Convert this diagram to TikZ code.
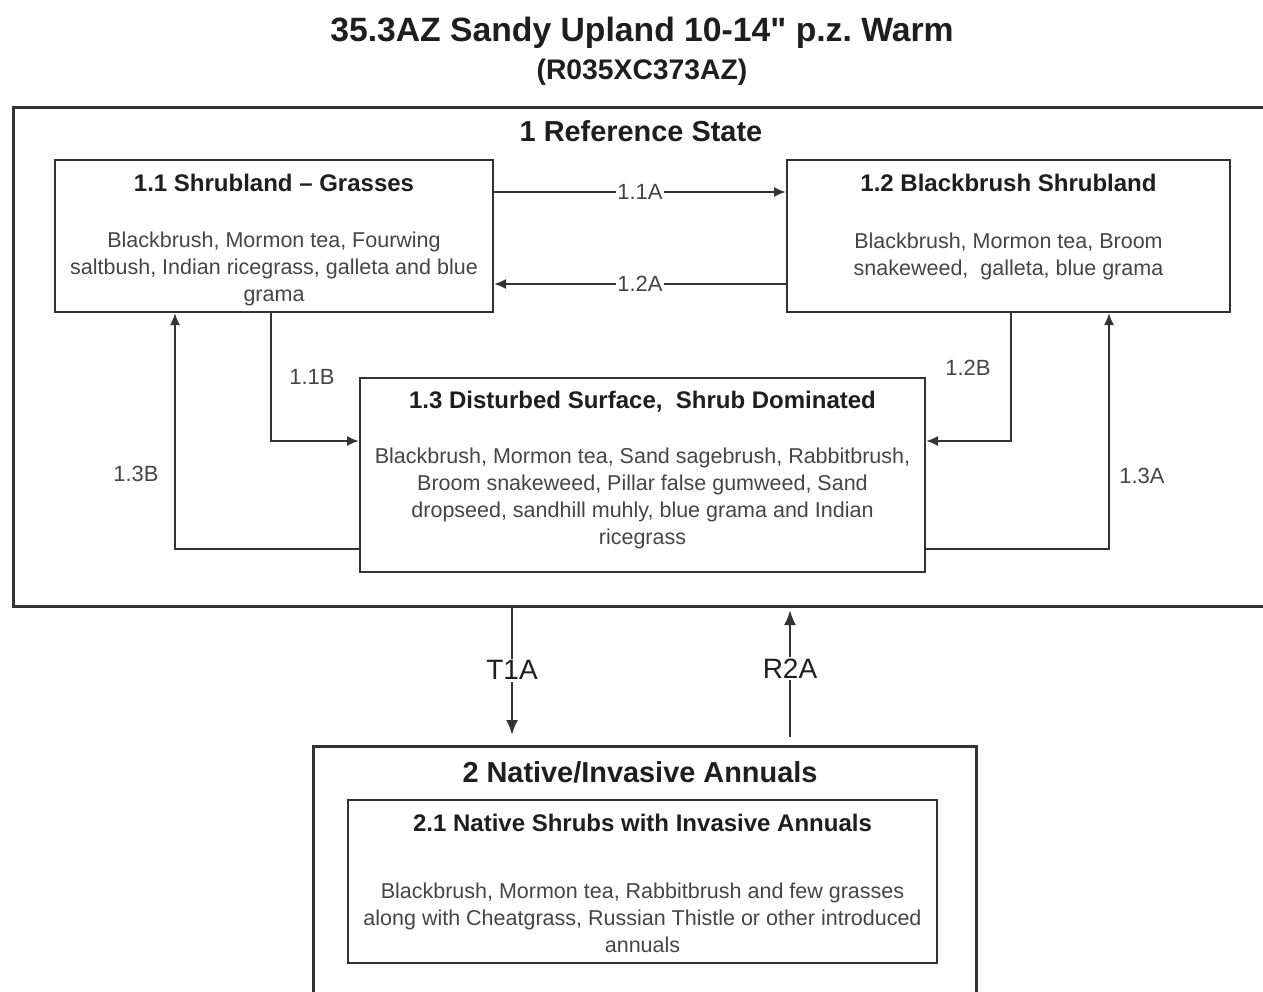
\documentclass[tikz,border=0pt]{standalone}
\usepackage{fontspec}
\setmainfont{Liberation Sans}[Ligatures=TeXOff]
\usetikzlibrary{arrows.meta,calc}
\definecolor{ln}{HTML}{333333}
\definecolor{bodytxt}{HTML}{454545}
\definecolor{ttltxt}{HTML}{1E1E1E}
\frenchspacing
\begin{document}
\begin{tikzpicture}[x=1pt,y=-1pt,
  box/.style={draw=ln, line width=2pt, rectangle, inner sep=0pt},
  statebox/.style={draw=ln, line width=3pt, rectangle, inner sep=0pt},
  ttl/.style={inner sep=0pt, text=ttltxt, font=\fontsize{24}{28}\selectfont\bfseries},
  body/.style={inner sep=0pt, text=bodytxt, align=center, font=\fontsize{21.5}{27}\selectfont},
  statettl/.style={inner sep=0pt, text=ttltxt, font=\fontsize{28.9}{34}\selectfont\bfseries},
  lbl/.style={inner sep=1pt, text=bodytxt, font=\fontsize{22}{26}\selectfont},
  biglbl/.style={inner sep=2pt, text=ttltxt, font=\fontsize{28}{32}\selectfont},
  arr/.style={draw=ln, line width=2pt, -{Latex[length=12pt,width=10pt]}},
  arrB/.style={draw=ln, line width=2.4pt, -{Latex[length=15pt,width=12pt]}}
]
\clip (0,0) rectangle (1263,991);
\fill[white] (0,0) rectangle (1263,991);

% titles
\node[inner sep=0pt, text=ttltxt, font=\fontsize{33.7}{40}\selectfont\bfseries] (title) at (642,33) {35.3AZ Sandy Upland 10-14" p.z. Warm};
\node[inner sep=0pt, text=ttltxt, font=\fontsize{28.3}{34}\selectfont\bfseries] (subtitle) at (642,72) {(R035XC373AZ)};

% state 1
\node[statebox, minimum width=1263pt, minimum height=499pt, anchor=north west] (s1) at (12,106) {};
\node[statettl] (s1t) at (641,131) {1 Reference State};

% 1.1
\node[box, minimum width=438pt, minimum height=152pt] (b11) at (274,236) {};
\node[ttl] (b11t) at ($(b11.north)+(0,24)$) {1.1 Shrubland – Grasses};
\node[body] (b11b) at ($(b11.north)+(0,110)$) {Blackbrush, Mormon tea, Fourwing\\saltbush, Indian ricegrass, galleta and blue\\grama};

% 1.2
\node[box, minimum width=443pt, minimum height=152pt] (b12) at (1008.5,236) {};
\node[ttl] (b12t) at ($(b12.north)+(0,24)$) {1.2 Blackbrush Shrubland};
\node[body] (b12b) at ($(b12.north)+(0,97)$) {Blackbrush, Mormon tea, Broom\\snakeweed,\ \ galleta, blue grama};

% 1.3
\node[box, minimum width=565pt, minimum height=194pt] (b13) at (642.5,475) {};
\node[ttl] (b13t) at ($(b13.north)+(0,25)$) {1.3 Disturbed Surface,\ \ Shrub Dominated};
\node[body] (b13b) at ($(b13.north)+(0,121)$) {Blackbrush, Mormon tea, Sand sagebrush, Rabbitbrush,\\Broom snakeweed, Pillar false gumweed, Sand\\dropseed, sandhill muhly, blue grama and Indian\\ricegrass};

% state 2
\node[statebox, minimum width=663pt, minimum height=260pt, anchor=north west] (s2) at (312,745) {};
\node[statettl] (s2t) at (640,772) {2 Native/Invasive Annuals};

% 2.1
\node[box, minimum width=589pt, minimum height=163pt] (b21) at (642.5,881.5) {};
\node[ttl] (b21t) at ($(b21.north)+(0,24)$) {2.1 Native Shrubs with Invasive Annuals};
\node[body] (b21b) at ($(b21.north)+(0,119)$) {Blackbrush, Mormon tea, Rabbitbrush and few grasses\\along with Cheatgrass, Russian Thistle or other introduced\\annuals};

% transitions within state 1
\draw[arr] ($(b11.north east)+(0,33)$) -- ($(b12.north west)+(0,33)$) node[lbl, fill=white, midway] {1.1A};
\draw[arr] ($(b12.north west)+(0,125)$) -- ($(b11.north east)+(0,125)$) node[lbl, fill=white, midway] {1.2A};
\draw[arr] ($(b11.south west)+(217,0)$) |- ($(b13.north west)+(0,64)$);
\node[lbl] (l11b) at (312,377) {1.1B};
\draw[arr] ($(b12.south west)+(225,0)$) |- ($(b13.north east)+(0,64)$);
\node[lbl] (l12b) at (968,368) {1.2B};
\draw[arr] ($(b13.north west)+(0,172)$) -| ($(b11.south west)+(121,0)$);
\node[lbl] (l13b) at (136,474) {1.3B};
\draw[arr] ($(b13.north east)+(0,172)$) -| ($(b12.south west)+(323,0)$);
\node[lbl] (l13a) at (1142,476) {1.3A};

% transitions between states
\draw[arrB] ($(s1.south west)+(500,0)$) -- ($(s2.north west)+(200,-10)$) node[biglbl, fill=white, pos=0.49] {T1A};
\draw[arrB] ($(s2.north west)+(478,-8)$) -- ($(s1.south west)+(778,2)$) node[biglbl, fill=white, pos=0.54] {R2A};
\end{tikzpicture}
\end{document}
